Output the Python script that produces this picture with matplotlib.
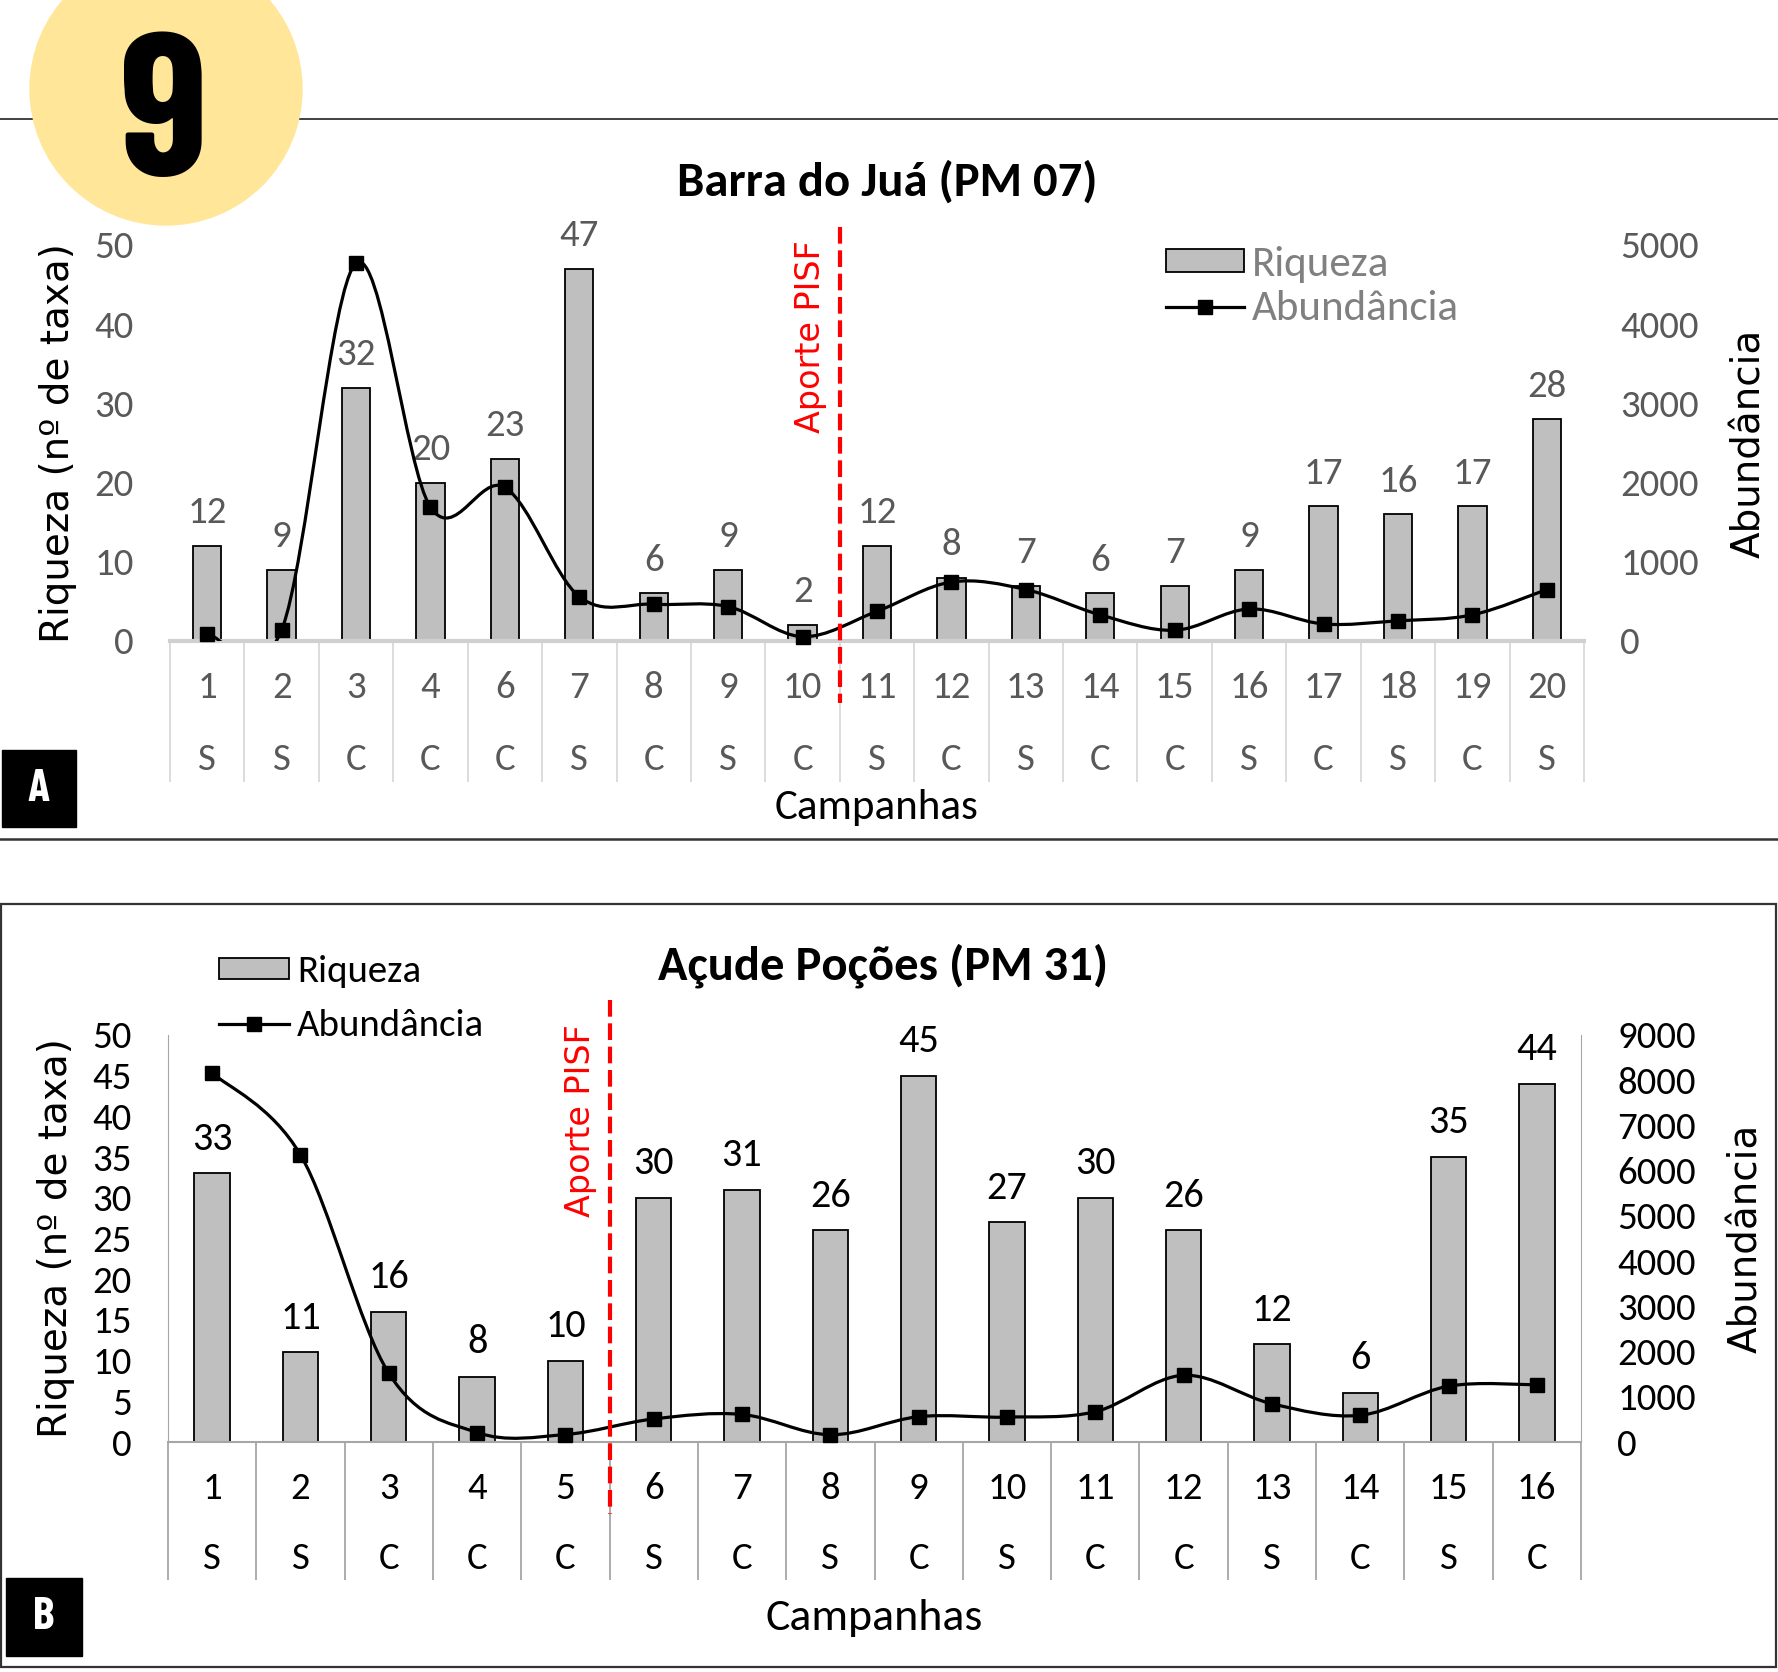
import numpy as np
import matplotlib
matplotlib.use("Agg")
import matplotlib.pyplot as plt
from matplotlib.path import Path
from matplotlib.patches import PathPatch, Circle, Rectangle, Patch
from matplotlib.lines import Line2D
import matplotlib.font_manager as fm

# ---------------- data ----------------
campA = ['1', '2', '3', '4', '6', '7', '8', '9', '10', '11', '12', '13', '14', '15', '16', '17', '18', '19', '20']
seasonA = ['S', 'S', 'C', 'C', 'C', 'S', 'C', 'S', 'C', 'S', 'C', 'S', 'C', 'C', 'S', 'C', 'S', 'C', 'S']
riqA = [12, 9, 32, 20, 23, 47, 6, 9, 2, 12, 8, 7, 6, 7, 9, 17, 16, 17, 28]
abunA = [90, 140, 4770, 1690, 1940, 560, 465, 435, 55, 375, 745, 650, 330, 135, 405, 215, 255, 330, 650]
aporteA_after = '10'

campB = ['1', '2', '3', '4', '5', '6', '7', '8', '9', '10', '11', '12', '13', '14', '15', '16']
seasonB = ['S', 'S', 'C', 'C', 'C', 'S', 'C', 'S', 'C', 'S', 'C', 'C', 'S', 'C', 'S', 'C']
riqB = [33, 11, 16, 8, 10, 30, 31, 26, 45, 27, 30, 26, 12, 6, 35, 44]
abunB = [8160, 6350, 1520, 210, 165, 510, 610, 160, 560, 550, 670, 1475, 845, 590, 1235, 1265]
aporteB_after = '5'

titleA = 'Barra do Juá (PM 07)'
titleB = 'Açude Poções (PM 31)'

# ---------------- fonts ----------------
names = {f.name for f in fm.fontManager.ttflist}
TICKF = 'Carlito' if 'Carlito' in names else ('Lato' if 'Lato' in names else 'DejaVu Sans')
if 'Barlow Condensed' in names:
    NARROWF = 'Barlow Condensed'
else:
    NARROWF = 'DejaVu Sans'
LABF = 'DejaVu Sans'

W, H = 1778, 1672
fig = plt.figure(figsize=(W / 100, H / 100), dpi=100)

# decoration layer in pixel coordinates
deco = fig.add_axes([0, 0, 1, 1])
deco.set_xlim(0, W)
deco.set_ylim(H, 0)
deco.axis('off')
deco.plot([0, W], [119, 119], color='#333333', lw=1.3, zorder=1)
deco.add_patch(Circle((166, 89), 136, color='#FFE699', zorder=2))
deco.text(164, 104, '9', ha='center', va='center_baseline', color='black', zorder=3,
          family=NARROWF, fontweight='bold', fontsize=146)
deco.plot([0, W], [839, 839], color='#333333', lw=1.8, zorder=1)
deco.add_patch(Rectangle((1, 904), W - 3, 763, fill=False, edgecolor='#333333', lw=1.6))
deco.add_patch(Rectangle((2, 750), 74, 77, color='black'))
deco.text(39, 789, 'A', ha='center', va='center', color='white', family=NARROWF,
          fontweight='bold', fontsize=33)
deco.add_patch(Rectangle((6, 1578), 76, 78, color='black'))
deco.text(44, 1617, 'B', ha='center', va='center', color='white', family=NARROWF,
          fontweight='bold', fontsize=33)


def smooth_path(x, y):
    P = np.column_stack([x, y]).astype(float)
    n = len(P)
    verts = [P[0]]
    codes = [Path.MOVETO]
    for i in range(n - 1):
        p0 = P[i - 1] if i > 0 else P[i]
        p1, p2 = P[i], P[i + 1]
        p3 = P[i + 2] if i + 2 < n else P[i + 1]
        verts += [p1 + (p2 - p0) / 6.0, p2 - (p3 - p1) / 6.0, p2]
        codes += [Path.CURVE4] * 3
    return Path(verts, codes)


def panel(rect, camps, seasons, riq, abun, aporte_after, title, rmax, rstep, amax, astep,
          txtcol, legcol, sepcol, basecol, baselw, spines_lr, barw, sep_depth, num_y, sc_y,
          camp_y, camp_fs, lab_fs, title_xy, aporte_txt, aporte_ylim, legend_anchor, legfs,
          leg_ls, show_rspine):
    ax = fig.add_axes(rect)
    n = len(camps)
    x = np.arange(n)
    ax.bar(x, riq, width=barw, color='#BFBFBF', edgecolor='black', lw=1.3, zorder=2)
    for xi, v in zip(x, riq):
        ax.annotate(str(v), (xi, v), xytext=(0, 12), textcoords='offset points', ha='center',
                    va='bottom', fontsize=lab_fs, color=txtcol, family=TICKF, zorder=3)
    ax.set_xlim(-0.5, n - 0.5)
    ax.set_ylim(0, rmax)
    ax.set_yticks(np.arange(0, rmax + 1, rstep))
    ax.set_xticks([])
    ax.tick_params(axis='y', length=0, pad=26, labelsize=28, labelcolor=txtcol)
    for lab in ax.get_yticklabels():
        lab.set_family(TICKF)
    for s in ['top', 'right']:
        ax.spines[s].set_visible(False)
    ax.spines['left'].set_visible(spines_lr)
    ax.spines['left'].set_color('#A6A6A6')
    ax.spines['bottom'].set_color(basecol)
    ax.spines['bottom'].set_linewidth(baselw)
    ax.patch.set_alpha(0)

    xt = ax.get_xaxis_transform()
    ax.vlines(np.arange(n + 1) - 0.5, sep_depth, 0, transform=xt, clip_on=False,
              color=sepcol, lw=1.3)
    for xi, c, s in zip(x, camps, seasons):
        ax.text(xi, num_y, c, transform=xt, ha='center', va='center', fontsize=28,
                color=txtcol, family=TICKF)
        ax.text(xi, sc_y, s, transform=xt, ha='center', va='center', fontsize=28,
                color=txtcol, family=TICKF)
    ax.text(0.5, camp_y, 'Campanhas', transform=ax.transAxes, ha='center', va='center',
            fontsize=camp_fs, color='black', family=TICKF)
    ax.text(-0.079, 0.5, 'Riqueza (nº de taxa)', transform=ax.transAxes, rotation=90,
            ha='center', va='center', fontsize=28, family=LABF, color='black')
    fig.text(title_xy[0] / W, 1 - title_xy[1] / H, title, ha='center', va='center',
             fontsize=35, fontweight='bold', family=TICKF, color='black')

    ax2 = ax.twinx()
    ax2.set_ylim(0, amax)
    ax2.set_yticks(np.arange(0, amax + 1, astep))
    ax2.tick_params(axis='y', length=0, pad=26, labelsize=28, labelcolor=txtcol)
    for lab in ax2.get_yticklabels():
        lab.set_family(TICKF)
    for s in ['top', 'left', 'bottom']:
        ax2.spines[s].set_visible(False)
    ax2.spines['right'].set_visible(show_rspine)
    ax2.spines['right'].set_color('#A6A6A6')
    ax2.add_patch(PathPatch(smooth_path(x, abun), fill=False, edgecolor='black', lw=2.3,
                            zorder=3))
    ax2.plot(x, abun, 's', color='black', ms=10, clip_on=False, zorder=4)
    ax2.text(1.117, 0.5, 'Abundância', transform=ax2.transAxes, rotation=90, ha='center',
             va='center', fontsize=28, family=LABF, color='black')

    xa = camps.index(aporte_after) + 0.5
    ax2.plot([xa, xa], aporte_ylim, transform=ax2.get_xaxis_transform(), clip_on=False,
             color='#FF0000', lw=3, ls=(0, (4, 1.6)), zorder=5)
    ax2.text(aporte_txt[0], aporte_txt[1], 'Aporte PISF', transform=ax2.get_xaxis_transform(),
             rotation=90, ha='center', va='center', fontsize=24, color='#FF0000', family=LABF)

    handles = [Patch(facecolor='#BFBFBF', edgecolor='black', lw=1.3),
               Line2D([], [], color='black', lw=2.3, marker='s', ms=10)]
    leg = fig.legend(handles, ['Riqueza', 'Abundância'], loc='upper left',
                     bbox_to_anchor=legend_anchor, bbox_transform=fig.transFigure,
                     frameon=False, borderpad=0, borderaxespad=0, handlelength=1.8,
                     handleheight=0.45, handletextpad=0.2, labelspacing=leg_ls,
                     prop=dict(family=TICKF, size=legfs))
    for t in leg.get_texts():
        t.set_color(legcol)
    return ax, ax2


# Panel A
panel([170 / W, 1 - 641 / H, 1414 / W, 396 / H], campA, seasonA, riqA, abunA, aporteA_after,
      titleA, 50, 10, 5000, 1000,
      txtcol='#595959', legcol='#808080', sepcol='#D9D9D9', basecol='#D0D0D0', baselw=3,
      spines_lr=False, barw=0.38, sep_depth=-0.356, num_y=-0.117, sc_y=-0.3, camp_y=-0.42,
      camp_fs=31, lab_fs=28,
      title_xy=(887, 182), aporte_txt=(8.1, 0.768), aporte_ylim=(1.045, -0.157),
      legend_anchor=(1166 / W, 1 - 246 / H), legfs=31, leg_ls=0.17, show_rspine=False)

# Panel B
panel([168 / W, 1 - 1442 / H, 1413 / W, 407 / H], campB, seasonB, riqB, abunB, aporteB_after,
      titleB, 50, 5, 9000, 1000,
      txtcol='black', legcol='black', sepcol='#A6A6A6', basecol='#A6A6A6', baselw=1.5,
      spines_lr=True, barw=0.4, sep_depth=-0.339, num_y=-0.115, sc_y=-0.287, camp_y=-0.433,
      camp_fs=33, lab_fs=29,
      title_xy=(883, 966), aporte_txt=(4.17, 0.79), aporte_ylim=(1.086, -0.177),
      legend_anchor=(219 / W, 1 - 955 / H), legfs=28, leg_ls=0.55, show_rspine=True)

fig.savefig('out.png', dpi=100)
